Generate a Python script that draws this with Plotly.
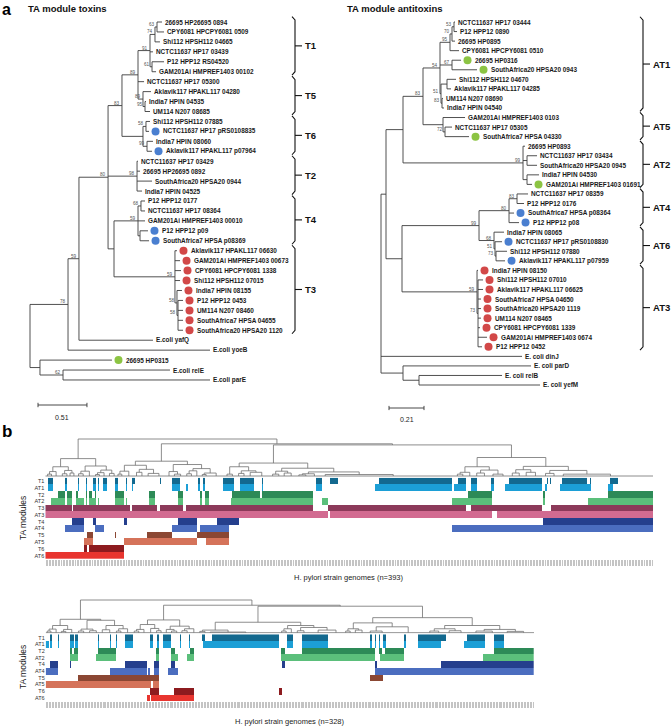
import plotly.graph_objects as go

W, H = 671, 727
FONT = "Liberation Sans, Arial, Helvetica, sans-serif"

# ---------------- panel a: toxin tree ----------------
toxin_labels = [
    "26695 HP26695 0894", "CPY6081 HPCPY6081 0509", "Shi112 HPSH112 04665",
    "NCTC11637 HP17 03439", "P12 HPP12 RS04520", "GAM201Ai HMPREF1403 00102",
    "NCTC11637 HP17 05300", "Aklavik117 HPAKL117 04280", "India7 HPIN 04535",
    "UM114 N207 08685", "Shi112 HPSH112 07885", "NCTC11637 HP17 pRS0108835",
    "India7 HPIN 08060", "Aklavik117 HPAKL117 p07964", "NCTC11637 HP17 03429",
    "26695 HP26695 0892", "SouthAfrica20 HPSA20 0944", "India7 HPIN 04525",
    "P12 HPP12 0177", "NCTC11637 HP17 08364", "GAM201Ai HMPREF1403 00010",
    "P12 HPP12 p09", "SouthAfrica7 HPSA p08369", "Aklavik117 HPAKL117 06630",
    "GAM201Ai HMPREF1403 00673", "CPY6081 HPCPY6081 1338", "Shi112 HPSH112 07015",
    "India7 HPIN 08155", "P12 HPP12 0453", "UM114 N207 08460",
    "SouthAfrica7 HPSA 04655", "SouthAfrica20 HPSA20 1120", "E.coli yafQ",
    "E.coli yoeB", "26695 HP0315", "E.coli relE", "E.coli parE",
]
toxin_dots = ["", "", "", "", "", "", "", "", "", "", "", "b", "", "b", "", "", "", "",
              "", "", "", "b", "b", "r", "r", "r", "r", "r", "r", "r", "r", "r",
              "", "", "g", "", ""]
toxin_newick = (
    "(((((((((t0:0.052,t1:0.073)63:0.021,t2:0.052)74:0.052,t3:0.031,"
    "(t4:0.125,t5:0.042)61:0.021)91:0.125,t6:0.063,"
    "(t7:0.083,(t8:0.010,t9:0.052)95:0.021)89:0.052)89:0.167,"
    "((t10:0.042,t11:0.032)58:0.031,(t12:0.062,t13:0.052)99:0.042):0.219)83:0.145,"
    "(t14:0.010,t15:0.031,t16:0.156,t17:0.052)98:0.302,"
    "(((t18:0.042,t19:0.042)68:0.031,t20:0.073,(t21:0.083,t22:0.094):0.021)59:0.250,"
    "(t23:0.021,t24:0.053,t25:0.063,t26:0.053,(t27:0.052,(t28:0.052,t29:0.052,"
    "t30:0.052,t31:0.052)58:0.011)58:0.021)59:0.635):0.062)80:0.303,"
    "t32:0.771)59:0.114,t33:1.479)78:0.396,"
    "(t34:0.750,(t35:1.114,t36:1.531)62:0.240):0.104);"
)
toxin_clade_names = ["T1", "T5", "T6", "T2", "T4", "T3"]
toxin_clade_first = [0, 6, 10, 14, 18, 23]
toxin_clade_last = [5, 9, 13, 17, 22, 31]
toxin_scale_bar = 0.51

# ---------------- panel a: antitoxin tree ----------------
antitoxin_labels = [
    "NCTC11637 HP17 03444", "P12 HPP12 0890", "26695 HP0895", "CPY6081 HPCPY6081 0510",
    "26695 HP0316", "SouthAfrica20 HPSA20 0943", "Shi112 HPSH112 04670",
    "Aklavik117 HPAKL117 04285", "UM114 N207 08690", "India7 HPIN 04540",
    "GAM201Ai HMPREF1403 0103", "NCTC11637 HP17 05305", "SouthAfrica7 HPSA 04330",
    "26695 HP0893", "NCTC11637 HP17 03434", "SouthAfrica20 HPSA20 0945",
    "India7 HPIN 04530", "GAM201Ai HMPREF1403 01691", "NCTC11637 HP17 08359",
    "P12 HPP12 0176", "SouthAfrica7 HPSA p08364", "P12 HPP12 p08", "India7 HPIN 08065",
    "NCTC11637 HP17 pRS0108830", "Shi112 HPSH112 07880", "Aklavik117 HPAKL117 p07959",
    "India7 HPIN 08150", "Shi112 HPSH112 07010", "Aklavik117 HPAKL117 06625",
    "SouthAfrica7 HPSA 04650", "SouthAfrica20 HPSA20 1119", "UM114 N207 08465",
    "CPY6081 HPCPY6081 1339", "GAM201Ai HMPREF1403 0674", "P12 HPP12 0452",
    "E. coli dinJ", "E. coli parD", "E. coli relB", "E. coli yefM",
]
antitoxin_dots = ["", "", "", "", "g", "g", "", "", "", "", "", "", "g", "", "", "", "", "g",
                  "", "", "b", "b", "", "b", "", "b", "r", "r", "r", "r", "r", "r", "r", "r",
                  "r", "", "", "", ""]
antitoxin_newick = (
    "((((((((a0:0.006,a1:0.018)53:0.012,a2:0.018)70:0.012,a3:0.054)95:0.060,"
    "(a4:0.054,a5:0.150)67:0.072,"
    "((a6:0.054,a7:0.024):0.036,(a8:0.006,a9:0.012)83:0.006)51:0.006)54:0.102,"
    "(a10:0.132,(a11:0.042,a12:0.144)72:0.012):0.120)83:0.120,"
    "(a13:0.012,(a14:0.060,a15:0.060):0.024,(a16:0.072,a17:0.030):0.024)99:0.720):0.102,"
    "((((a18:0.066,a19:0.042)83:0.048,a20:0.030,a21:0.060)80:0.180,"
    "(a22:0.060,(a23:0.042,(a24:0.066,a25:0.054)73:0.006)51:0.006)68:0.090)99:0.462,"
    "(a26:0.006,(a27:0.030,a28:0.030,a29:0.018,a30:0.018,a31:0.018,a32:0.012,"
    "a33:0.054,a34:0.024)73:0.006)59:0.450):0.096):0.030,"
    "a35:0.846,(a36:0.768,(a37:0.498,a38:0.726):0.096):0.132);"
)
antitoxin_clade_names = ["AT1", "AT5", "AT2", "AT4", "AT6", "AT3"]
antitoxin_clade_first = [0, 10, 13, 18, 22, 26]
antitoxin_clade_last = [9, 12, 17, 21, 25, 34]
antitoxin_scale_bar = 0.21

# ---------------- panel b: modules ----------------
module_names = ["T1", "AT1", "T2", "AT2", "T3", "AT3", "T4", "AT4", "T5", "AT5", "T6", "AT6"]
module_colors = ["#13698f", "#1c9fd6", "#2d8a57", "#5bbf7b", "#8c3a5a", "#d26b91",
                 "#253f8d", "#4b6dbf", "#8b4733", "#d5735a", "#8d1b1f", "#e8352f"]
top_rows = ["T1", "AT1", "T2", "AT2", "T3", "AT3", "T4", "AT4", "T5", "AT5", "T6", "AT6"]
bottom_rows = ["T1", "AT1", "T2", "AT2", "T4", "AT4", "T5", "AT5", "T6", "AT6"]
top_n = 393
bottom_n = 328

top_T1 = [(2, 5), (13, 14), (21, 22), (26, 27), (31, 33), (34, 35), (37, 40), (45, 47), (52, 53),
          (56, 58), (74, 75), (82, 87), (99, 100), (102, 103), (115, 122), (126, 135), (140, 141),
          (175, 179), (184, 189), (216, 263), (267, 272), (275, 279), (288, 290), (300, 321),
          (324, 325), (326, 327), (334, 350), (352, 353), (365, 370)]
top_AT1 = [(2, 5), (13, 14), (21, 22), (26, 27), (31, 33), (34, 35), (37, 40), (45, 47), (52, 53),
           (56, 57), (82, 87), (91, 92), (99, 100), (102, 103), (115, 122), (126, 135), (140, 141),
           (175, 179), (213, 263), (264, 272), (275, 279), (288, 290), (297, 321), (323, 324),
           (333, 353), (364, 367)]
top_T2 = [(8, 13), (14, 17), (20, 21), (26, 27), (28, 30), (32, 33), (45, 51), (67, 71), (86, 89),
          (100, 101), (103, 106), (121, 139), (140, 173), (273, 289), (322, 323), (364, 393)]
top_AT2 = [(4, 13), (14, 17), (20, 25), (26, 27), (28, 33), (34, 35), (45, 51), (52, 53), (67, 71),
           (86, 89), (100, 101), (103, 106), (120, 173), (179, 183), (263, 289), (322, 323),
           (351, 393)]
top_T3 = [(0, 17), (18, 55), (56, 72), (74, 89), (91, 173), (183, 272), (275, 321), (327, 393)]
top_AT3 = [(0, 183), (184, 289), (292, 393)]
top_T4 = [(17, 25), (31, 33), (51, 53), (86, 98), (111, 125), (322, 393)]
top_AT4 = [(13, 25), (32, 38), (82, 98), (100, 119), (263, 393)]
top_T5 = [(27, 31), (45, 46), (66, 82), (98, 119)]
top_AT5 = [(25, 31), (51, 98), (104, 119)]
top_T6 = [(25, 27), (28, 51)]
top_AT6 = [(0, 51)]

bot_T1 = [(3, 4), (8, 9), (16, 19), (20, 22), (35, 36), (43, 44), (47, 48), (53, 59), (70, 72),
          (75, 76), (79, 84), (90, 91), (96, 97), (105, 107), (112, 157), (162, 166), (172, 190),
          (218, 219), (221, 222), (224, 225), (227, 229), (241, 242), (250, 269), (283, 295),
          (301, 308)]
bot_AT1 = [(0, 2), (3, 4), (8, 9), (16, 19), (20, 22), (35, 36), (43, 44), (47, 48), (53, 59),
           (70, 72), (75, 76), (79, 84), (90, 91), (96, 97), (106, 157), (162, 166), (172, 190),
           (218, 219), (221, 222), (224, 225), (227, 229), (241, 242), (250, 266), (281, 295),
           (301, 308)]
bot_T2 = [(16, 18), (19, 22), (35, 47), (74, 76), (84, 87), (97, 100), (158, 161), (172, 221),
          (224, 226), (228, 241), (301, 328)]
bot_AT2 = [(16, 22), (34, 47), (74, 76), (84, 89), (95, 100), (158, 221), (225, 241), (294, 328)]
bot_T4 = [(3, 8), (16, 17), (53, 68), (73, 76), (84, 87), (159, 161), (221, 223), (266, 328)]
bot_AT4 = [(0, 8), (43, 68), (69, 70), (73, 76), (82, 89), (221, 328)]
bot_T5 = [(22, 76), (218, 227)]
bot_AT5 = [(0, 71), (72, 76)]
bot_T6 = [(70, 76), (86, 100), (157, 159)]
bot_AT6 = [(68, 70), (71, 100)]

# dendrograms: [height, child, child]; integers = groups of identical genomes
top_dendro = [1.00,
    [0.47,
        [0.25, [0.12, [0.05, 3, 2], 4], [0.15, [0.06, 4, 2], [0.08, 2, 3]]],
        [0.27, [0.13, [0.06, 3, 3], 5], [0.16, [0.09, [0.04, 3, 2], 4], [0.07, 3, 3]]]],
    [0.87,
        [0.40,
            [0.29, [0.13, [0.05, 2, 3], 6], [0.18, [0.10, 4, 3], [0.07, 5, 9]]],
            [0.31, [0.12, 4, [0.05, 3, 5]], [0.20, [0.14, [0.06, 3, 3], 4], [0.08, [0.04, 3, 2], 11]]]],
        [0.84,
            [0.35,
                [0.25, [0.05, 3, 4], [0.14, [0.07, 4, 3], [0.10, 5, 10]]],
                [0.21, [0.13, [0.05, 4, 4], [0.08, 3, 6]], [0.11, [0.06, [0.03, 4, 5], 6], [0.04, 8, 80]]]],
            [0.50,
                [0.25, [0.10, [0.05, 3, 4], 5], [0.16, [0.08, 4, 6], [0.05, 5, 8]]],
                [0.26, [0.17, [0.08, 4, 5], [0.10, 4, 8]], [0.15, [0.07, 5, 6], [0.05, 6, 55]]]]]]]

bottom_dendro = [1.00,
    [0.41,
        [0.22, [0.11, [0.05, 2, 3], 4], [0.10, [0.04, 3, 3], 5]],
        [0.38, [0.11, [0.05, 4, 3], [0.06, 5, 4]], [0.22, [0.09, 4, 6], [0.12, [0.05, 3, 3], 6]]]],
    [0.84,
        [0.39,
            [0.25, [0.10, [0.05, 3, 3], 4], [0.13, 5, [0.06, 3, 3]]],
            [0.20, [0.10, 4, [0.05, 3, 4]], [0.12, [0.06, 3, 4], 5]]],
        [0.81,
            [0.32,
                [0.08, [0.04, 3, 4], [0.02, 3, 45]],
                [0.22, [0.12, [0.05, 3, 3], 4], [0.16, [0.06, 4, 5], [0.08, 14, 10]]]],
            [0.46,
                [0.30, [0.12, [0.05, 3, 3], [0.08, 4, 5]], [0.18, [0.05, 6, 10], 25]],
                [0.22, [0.12, [0.05, 4, 8], [0.06, 6, 10]], [0.10, [0.05, 10, 12], [0.04, 8, 14]]]]]]]

DOT_COLORS = {"b": "#4a7fd0", "r": "#d24848", "g": "#8cc443"}

# ============================================================
fig = go.Figure()
annotations = []


def fx(px):
    return px / W


def fy(py):
    return 1 - py / H


def ann(text, x, y, xref="paper", yref="paper", size=7, color="#111", xanchor="left",
        yanchor="middle", xshift=0, yshift=0, textangle=0):
    annotations.append(dict(text=text, x=x, y=y, xref=xref, yref=yref, showarrow=False,
                            xanchor=xanchor, yanchor=yanchor, xshift=xshift, yshift=yshift,
                            textangle=textangle, borderpad=0,
                            font=dict(family=FONT, size=size, color=color)))


def parse_newick(s):
    pos = 0
    n_chars = len(s)

    def node():
        nonlocal pos
        n = {"children": [], "name": "", "length": 0.0}
        if pos < n_chars and s[pos] == "(":
            pos += 1
            while pos < n_chars:
                n["children"].append(node())
                if pos < n_chars and s[pos] == ",":
                    pos += 1
                    continue
                if pos < n_chars and s[pos] == ")":
                    pos += 1
                    break
                raise ValueError("bad newick at %d" % pos)
        st = pos
        while pos < n_chars and s[pos] not in ":,();":
            pos += 1
        n["name"] = s[st:pos]
        if pos < n_chars and s[pos] == ":":
            pos += 1
            st = pos
            while pos < n_chars and s[pos] not in ",();":
                pos += 1
            n["length"] = float(s[st:pos])
        return n

    return node()


def assign(n, depth):
    n["x"] = depth + n["length"]
    if n["children"]:
        for c in n["children"]:
            assign(c, n["x"])
        n["y"] = (n["children"][0]["y"] + n["children"][-1]["y"]) / 2
    else:
        n["y"] = int(n["name"][1:])


def draw_tree(newick, labels, dots, xa, ya, unit_px, cnames, cfirst, clast,
              bracket_px, root_px, scale_val, scale_y):
    root = parse_newick(newick)
    assign(root, 0.0)
    xs, ys = [], []
    boots = []
    leaves = []

    def walk(n):
        if n["children"]:
            xs.extend([n["x"], n["x"], None])
            ys.extend([n["children"][0]["y"], n["children"][-1]["y"], None])
            for c in n["children"]:
                xs.extend([n["x"], c["x"], None])
                ys.extend([c["y"], c["y"], None])
                walk(c)
            if n["name"]:
                boots.append((n["x"], n["y"], n["name"]))
        else:
            leaves.append((int(n["name"][1:]), n["x"]))

    walk(root)
    fig.add_trace(go.Scatter(x=xs, y=ys, mode="lines", line=dict(color="#3c3c3c", width=0.9),
                             xaxis=xa, yaxis=ya, hoverinfo="skip", showlegend=False))
    dot_off = 6.5 / unit_px
    for key, col in DOT_COLORS.items():
        dx = [x + dot_off for i, x in leaves if dots[i] == key]
        dy = [i for i, x in leaves if dots[i] == key]
        if dx:
            fig.add_trace(go.Scatter(x=dx, y=dy, mode="markers",
                                     marker=dict(size=8, color=col, line=dict(width=0)),
                                     xaxis=xa, yaxis=ya, hoverinfo="skip", showlegend=False))
    for i, x in leaves:
        ann("<b>" + labels[i] + "</b>", x, i, xa, ya, size=6.4, color="#1a1a1a",
            xshift=(13 if dots[i] else 2))
    for x, y, b in boots:
        ann(b, x, y, xa, ya, size=4.6, color="#555", xanchor="right", yanchor="bottom",
            xshift=-1, yshift=-1)
    # clade brackets
    bx = (bracket_px - root_px) / unit_px
    hook = 3.0 / unit_px
    tick = 7.0 / unit_px
    bxs, bys = [], []
    for name, a, b in zip(cnames, cfirst, clast):
        y0, y1 = a - 0.45, b + 0.25
        bxs += [bx - hook, bx, bx, bx - hook, None, bx, bx + tick, None]
        bys += [y0 - 0.1, y0 + 0.25, y1 - 0.25, y1 + 0.1, None, (y0 + y1) / 2, (y0 + y1) / 2, None]
        ann("<b>" + name + "</b>", bx + tick, (y0 + y1) / 2, xa, ya, size=9.5, color="#111",
            xshift=2)
    fig.add_trace(go.Scatter(x=bxs, y=bys, mode="lines", line=dict(color="#111", width=1.1),
                             xaxis=xa, yaxis=ya, hoverinfo="skip", showlegend=False))
    # scale bar
    sx0 = 8.0 / unit_px
    fig.add_trace(go.Scatter(x=[sx0, sx0, None, sx0, sx0 + scale_val, None,
                                sx0 + scale_val, sx0 + scale_val],
                             y=[scale_y - 0.22, scale_y + 0.22, None, scale_y, scale_y, None,
                                scale_y - 0.22, scale_y + 0.22],
                             mode="lines", line=dict(color="#333", width=0.9),
                             xaxis=xa, yaxis=ya, hoverinfo="skip", showlegend=False))
    ann(str(scale_val), sx0 + scale_val / 2, scale_y + 1.25, xa, ya, size=7, color="#222",
        xanchor="center")


# toxin tree axes: root at px 30, 96 px per unit; leaves at 22 + 9.944*i
T_UNIT, T_SP, T_ROOT = 96.0, 9.944, 30.0
A_UNIT, A_SP, A_ROOT = 166.7, 9.553, 381.0

draw_tree(toxin_newick, toxin_labels, toxin_dots, "x", "y", T_UNIT,
          toxin_clade_names, toxin_clade_first, toxin_clade_last, 295.0, T_ROOT,
          toxin_scale_bar, (405 - 22) / T_SP)
draw_tree(antitoxin_newick, antitoxin_labels, antitoxin_dots, "x2", "y2", A_UNIT,
          antitoxin_clade_names, antitoxin_clade_first, antitoxin_clade_last, 643.0, A_ROOT,
          antitoxin_scale_bar, (408 - 22) / A_SP)


# ---------------- panel b ----------------
def dendro(tree, n, xa, ya):
    xs, ys = [], []

    def lay(node, start):
        if isinstance(node, int):
            return start + node, start + (node - 1) / 2.0, 0.0
        h = node[0]
        cur = start
        info = []
        for c in node[1:]:
            cur, cx, ch = lay(c, cur)
            info.append((cx, ch))
        xs.extend([info[0][0], info[-1][0], None])
        ys.extend([h, h, None])
        for cx, ch in info:
            xs.extend([cx, cx, None])
            ys.extend([ch, h, None])
        return cur, (info[0][0] + info[-1][0]) / 2, h

    lay(tree, 0)
    xs.extend([-0.5, n - 0.5, None])
    ys.extend([0, 0, None])
    fig.add_trace(go.Scatter(x=xs, y=ys, mode="lines", line=dict(color="#707070", width=0.8),
                             xaxis=xa, yaxis=ya, hoverinfo="skip", showlegend=False))


def heat(rows, segs, n, xa, ya):
    z = []
    for r, name in enumerate(rows):
        code = module_names.index(name)
        row = [None] * n
        for a, b in segs[r]:
            for c in range(a, min(b, n)):
                row[c] = code
        z.append(row)
    cs = []
    for k, col in enumerate(module_colors):
        cs.append([k / 12, col])
        cs.append([(k + 1) / 12, col])
    fig.add_trace(go.Heatmap(z=z, x=list(range(n)), y=list(range(len(rows))), zmin=-0.5,
                             zmax=11.5, colorscale=cs, showscale=False, hoverinfo="skip",
                             xaxis=xa, yaxis=ya))


top_segments = [top_T1, top_AT1, top_T2, top_AT2, top_T3, top_AT3, top_T4, top_AT4,
                top_T5, top_AT5, top_T6, top_AT6]
bottom_segments = [bot_T1, bot_AT1, bot_T2, bot_AT2, bot_T4, bot_AT4, bot_T5, bot_AT5,
                   bot_T6, bot_AT6]

dendro(top_dendro, top_n, "x3", "y3")
heat(top_rows, top_segments, top_n, "x4", "y4")
dendro(bottom_dendro, bottom_n, "x5", "y5")
heat(bottom_rows, bottom_segments, bottom_n, "x6", "y6")

# ---------------- texts ----------------
ann("<b>a</b>", fx(1), 1.0, size=16, color="#000", yanchor="top")
ann("<b>TA module toxins</b>", fx(27), fy(8), size=9.5, color="#111")
ann("<b>TA module antitoxins</b>", fx(346), fy(8), size=9.5, color="#111")
ann("<b>b</b>", fx(1), fy(431), size=17, color="#000")
ann("TA modules", fx(23), fy(518), size=8.5, color="#222", xanchor="center", textangle=-90)
ann("TA modules", fx(23), fy(667), size=8.5, color="#222", xanchor="center", textangle=-90)
ann("H. pylori strain genomes (n=393)", fx(349), fy(577), size=7.5, color="#222",
    xanchor="center")
ann("H. pylori strain genomes (n=328)", fx(290), fy(721.5), size=7.5, color="#222",
    xanchor="center")

hidden = dict(visible=False, showgrid=False, zeroline=False)
fig.update_layout(
    width=W, height=H, margin=dict(l=0, r=0, t=0, b=0),
    paper_bgcolor="white", plot_bgcolor="white", showlegend=False,
    font=dict(family=FONT),
    annotations=annotations,
    xaxis=dict(hidden, domain=[0, fx(340)], range=[-T_ROOT / T_UNIT, (340 - T_ROOT) / T_UNIT],
               anchor="y"),
    yaxis=dict(hidden, domain=[fy(430), fy(10)], range=[(430 - 22) / T_SP, (10 - 22) / T_SP],
               anchor="x"),
    xaxis2=dict(hidden, domain=[fx(340), 1],
                range=[(340 - A_ROOT) / A_UNIT, (671 - A_ROOT) / A_UNIT], anchor="y2"),
    yaxis2=dict(hidden, domain=[fy(430), fy(10)], range=[(430 - 22) / A_SP, (10 - 22) / A_SP],
                anchor="x2"),
    xaxis3=dict(hidden, domain=[fx(45.3), fx(653)], range=[-0.5, top_n - 0.5], anchor="y3"),
    yaxis3=dict(hidden, domain=[fy(477), fy(436)], range=[-1 / 37, 40 / 37], anchor="x3"),
    xaxis4=dict(visible=True, showgrid=False, zeroline=False, showline=False,
                domain=[fx(45.3), fx(653)], range=[-0.5, top_n - 0.5], anchor="y4",
                ticks="outside", ticklen=6, tickwidth=0.5, tickcolor="#c4c4c4",
                tickvals=list(range(top_n)), showticklabels=False),
    yaxis4=dict(visible=True, showgrid=False, zeroline=False, showline=False,
                domain=[fy(559), fy(477.7)], range=[11.5, -0.5], anchor="x4",
                tickvals=list(range(len(top_rows))), ticktext=top_rows, ticks="",
                tickfont=dict(size=5.5, color="#333", family=FONT)),
    xaxis5=dict(hidden, domain=[fx(45.7), fx(534)], range=[-0.5, bottom_n - 0.5], anchor="y5"),
    yaxis5=dict(hidden, domain=[fy(633.5), fy(597)], range=[-0.8 / 32.7, 35.7 / 32.7],
                anchor="x5"),
    xaxis6=dict(visible=True, showgrid=False, zeroline=False, showline=False,
                domain=[fx(45.7), fx(534)], range=[-0.5, bottom_n - 0.5], anchor="y6",
                ticks="outside", ticklen=6, tickwidth=0.5, tickcolor="#c4c4c4",
                tickvals=list(range(bottom_n)), showticklabels=False),
    yaxis6=dict(visible=True, showgrid=False, zeroline=False, showline=False,
                domain=[fy(701), fy(634.3)], range=[9.5, -0.5], anchor="x6",
                tickvals=list(range(len(bottom_rows))), ticktext=bottom_rows, ticks="",
                tickfont=dict(size=5.5, color="#333", family=FONT)),
)

fig.write_html("out.html", config={"displayModeBar": False},
               post_script="document.body.style.margin='0px';document.body.style.overflow='hidden';")
